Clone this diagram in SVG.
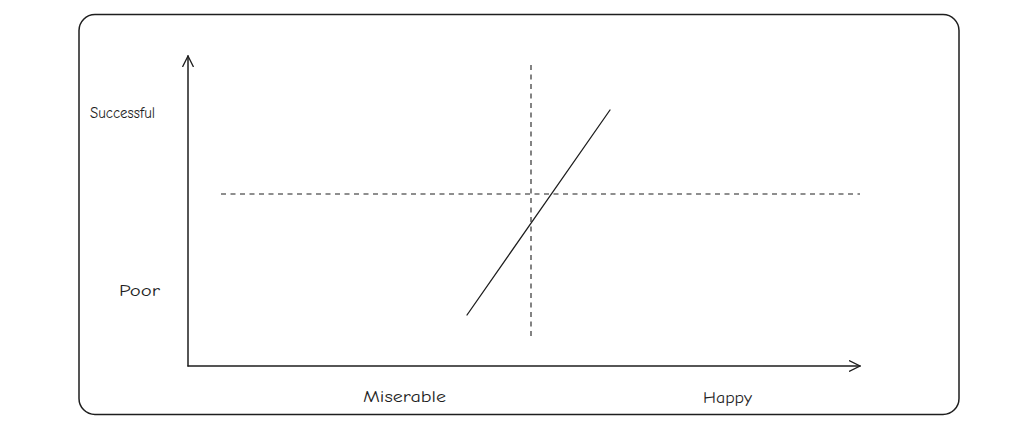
<svg xmlns="http://www.w3.org/2000/svg" width="1022" height="423" viewBox="0 0 1022 423">
<style>
.ln{stroke:#1e1e1e;stroke-width:1.5;fill:none;stroke-linecap:round}
.dash{stroke:#1e1e1e;stroke-width:1.1;fill:none;stroke-dasharray:5 4.5}
.lbl{font-family:"Comic Neue","Liberation Sans",sans-serif;fill:#1e1e1e}
</style>
<defs>
<marker id="arr" viewBox="0 0 12 12" refX="11" refY="6" markerWidth="12" markerHeight="12" markerUnits="userSpaceOnUse" orient="auto">
<path d="M0,0.5 L11,6 L0,11.5" fill="none" stroke="#1e1e1e" stroke-width="1.3"/>
</marker>
</defs>
<rect width="1022" height="423" fill="#fff"/>
<g id="frame"><rect x="79" y="14.5" width="880" height="400" rx="16" class="ln"/></g>
<g id="connectors">
<line x1="188" y1="366" x2="188" y2="56" class="ln" marker-end="url(#arr)"/>
<line x1="188" y1="366" x2="860" y2="366" class="ln" marker-end="url(#arr)"/>
<line x1="531" y1="65" x2="531" y2="337" class="dash"/>
<line x1="221" y1="194" x2="860" y2="194" class="dash"/>
<line x1="467" y1="315" x2="610" y2="110" class="ln" style="stroke-width:1.3"/>
</g>
<g id="label-successful"><text x="90" y="118" class="lbl" font-size="15" textLength="65" lengthAdjust="spacingAndGlyphs">Successful</text></g>
<g id="label-poor"><text x="119" y="296" class="lbl" font-size="15" textLength="41" lengthAdjust="spacingAndGlyphs">Poor</text></g>
<g id="label-miserable"><text x="363" y="402" class="lbl" font-size="16" textLength="83" lengthAdjust="spacingAndGlyphs">Miserable</text></g>
<g id="label-happy"><text x="703" y="403" class="lbl" font-size="16" textLength="49" lengthAdjust="spacingAndGlyphs">Happy</text></g>
</svg>
